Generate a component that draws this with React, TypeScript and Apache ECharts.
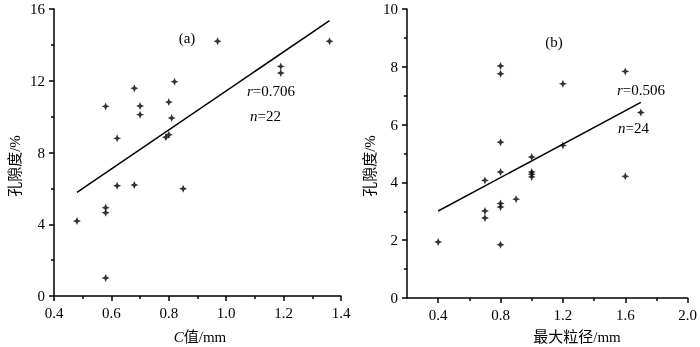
import React, { useEffect, useRef } from "react";
import * as echarts from "echarts";

// Panel (a): C value (mm) vs porosity (%)
const cValueA = [0.58, 0.62, 0.68, 0.70, 0.70, 0.80, 0.82, 0.81, 0.80, 0.79, 0.97, 1.19, 1.19, 1.36, 0.48, 0.58, 0.58, 0.58, 0.62, 0.68, 0.85];
const porosityA = [10.57, 8.79, 11.58, 10.59, 10.11, 10.81, 11.95, 9.92, 8.99, 8.85, 14.2, 12.8, 12.43, 14.2, 4.18, 4.92, 4.64, 1.0, 6.15, 6.19, 5.98];
const fitA = [[0.48, 5.78], [1.36, 15.35]];

// Panel (b): max grain size (mm) vs porosity (%)
const grainB = [0.8, 0.8, 1.2, 1.6, 1.7, 0.8, 1.0, 1.2, 0.8, 1.0, 1.0, 1.0, 1.6, 0.7, 0.7, 0.7, 0.8, 0.8, 0.9, 0.4, 0.8];
const porosityB = [8.03, 7.76, 7.41, 7.84, 6.42, 5.39, 4.88, 5.28, 4.36, 4.36, 4.28, 4.19, 4.21, 4.07, 3.01, 2.77, 3.27, 3.15, 3.42, 1.94, 1.84];
const fitB = [[0.4, 3.01], [1.7, 6.77]];

const xTicksBMajor = [0.4, 0.8, 1.2, 1.6, 2.0];
const xTicksBMinor = [0.6, 1.0, 1.4, 1.8];

const FONT = "'Liberation Serif', 'Noto Sans CJK SC', serif";
const MARK = "path://M5,0 L6.5,3.5 L10,5 L6.5,6.5 L5,10 L3.5,6.5 L0,5 L3.5,3.5 Z";

export default function App() {
  const ref = useRef<HTMLDivElement>(null);
  useEffect(() => {
    if (!ref.current) return;
    const chart = echarts.init(ref.current, null, { renderer: "svg" });
    const lineStyle = { color: "#000", width: 1.5 };
    const labelStyle = { color: "#000", fontSize: 15, fontFamily: FONT };
    const baseAxis = {
      type: "value" as const,
      axisLine: { show: true, onZero: false, lineStyle },
      axisTick: { show: true, inside: false, length: 5, lineStyle },
      minorTick: { show: true, splitNumber: 2, length: 3, lineStyle },
      splitLine: { show: false },
      minorSplitLine: { show: false },
    };
    const fmt = (v: number) => v.toFixed(1);
    const textStyle = { fontFamily: FONT, fontSize: 15, fill: "#000" };
    const rich = { i: { fontStyle: "italic", fontFamily: FONT, fontSize: 15, fill: "#000" } };
    chart.setOption({
      animation: false,
      grid: [
        { left: 54, top: 9, width: 287, height: 287 },
        { left: 407, top: 9, width: 289, height: 289 },
      ],
      xAxis: [
        {
          ...baseAxis,
          gridIndex: 0,
          position: "bottom",
          min: 0.4,
          max: 1.4,
          interval: 0.2,
          axisLabel: { ...labelStyle, margin: 9, formatter: fmt },
        },
        {
          ...baseAxis,
          gridIndex: 1,
          position: "bottom",
          min: 0.2,
          max: 2.0,
          minorTick: { show: false },
          axisTick: { show: true, inside: false, length: 5, lineStyle, customValues: xTicksBMajor },
          axisLabel: { ...labelStyle, margin: 9, formatter: fmt, customValues: xTicksBMajor },
        },
        {
          ...baseAxis,
          gridIndex: 1,
          position: "bottom",
          min: 0.2,
          max: 2.0,
          axisLine: { show: false, onZero: false },
          minorTick: { show: false },
          axisTick: { show: true, inside: false, length: 3, lineStyle, customValues: xTicksBMinor },
          axisLabel: { show: false },
        },
      ],
      yAxis: [
        {
          ...baseAxis,
          gridIndex: 0,
          position: "left",
          min: 0,
          max: 16,
          interval: 4,
          axisLabel: { ...labelStyle, margin: 9 },
        },
        {
          ...baseAxis,
          gridIndex: 1,
          position: "left",
          min: 0,
          max: 10,
          interval: 2,
          axisLabel: { ...labelStyle, margin: 9 },
        },
      ],
      series: [
        {
          type: "scatter",
          xAxisIndex: 0,
          yAxisIndex: 0,
          symbol: MARK,
          symbolSize: 8,
          itemStyle: { color: "#000" },
          data: cValueA.map((x, i) => [x, porosityA[i]]),
        },
        {
          type: "line",
          xAxisIndex: 0,
          yAxisIndex: 0,
          showSymbol: false,
          lineStyle,
          data: fitA,
        },
        {
          type: "scatter",
          xAxisIndex: 1,
          yAxisIndex: 1,
          symbol: MARK,
          symbolSize: 8,
          itemStyle: { color: "#000" },
          data: grainB.map((x, i) => [x, porosityB[i]]),
        },
        {
          type: "line",
          xAxisIndex: 1,
          yAxisIndex: 1,
          showSymbol: false,
          lineStyle,
          data: fitB,
        },
      ],
      graphic: [
        { type: "text", x: 187, y: 38, style: { ...textStyle, text: "(a)", align: "center", verticalAlign: "middle" } },
        { type: "text", x: 247, y: 91, style: { ...textStyle, text: "{i|r}=0.706", rich, align: "left", verticalAlign: "middle" } },
        { type: "text", x: 250, y: 116, style: { ...textStyle, text: "{i|n}=22", rich, align: "left", verticalAlign: "middle" } },
        { type: "text", x: 554, y: 42, style: { ...textStyle, text: "(b)", align: "center", verticalAlign: "middle" } },
        { type: "text", x: 617, y: 90, style: { ...textStyle, text: "{i|r}=0.506", rich, align: "left", verticalAlign: "middle" } },
        { type: "text", x: 618, y: 128, style: { ...textStyle, text: "{i|n}=24", rich, align: "left", verticalAlign: "middle" } },
        { type: "text", x: 200, y: 337, style: { ...textStyle, text: "{i|C}值/mm", rich, align: "center", verticalAlign: "middle" } },
        { type: "text", x: 577, y: 337, style: { ...textStyle, text: "最大粒径/mm", align: "center", verticalAlign: "middle" } },
        { type: "text", x: 15, y: 166, rotation: Math.PI / 2, style: { ...textStyle, text: "孔隙度/%", align: "center", verticalAlign: "middle" } },
        { type: "text", x: 370, y: 166, rotation: Math.PI / 2, style: { ...textStyle, text: "孔隙度/%", align: "center", verticalAlign: "middle" } },
      ],
    });
    return () => chart.dispose();
  }, []);
  return <div ref={ref} style={{ position: "fixed", left: 0, top: 0, width: 700, height: 347 }} />;
}
